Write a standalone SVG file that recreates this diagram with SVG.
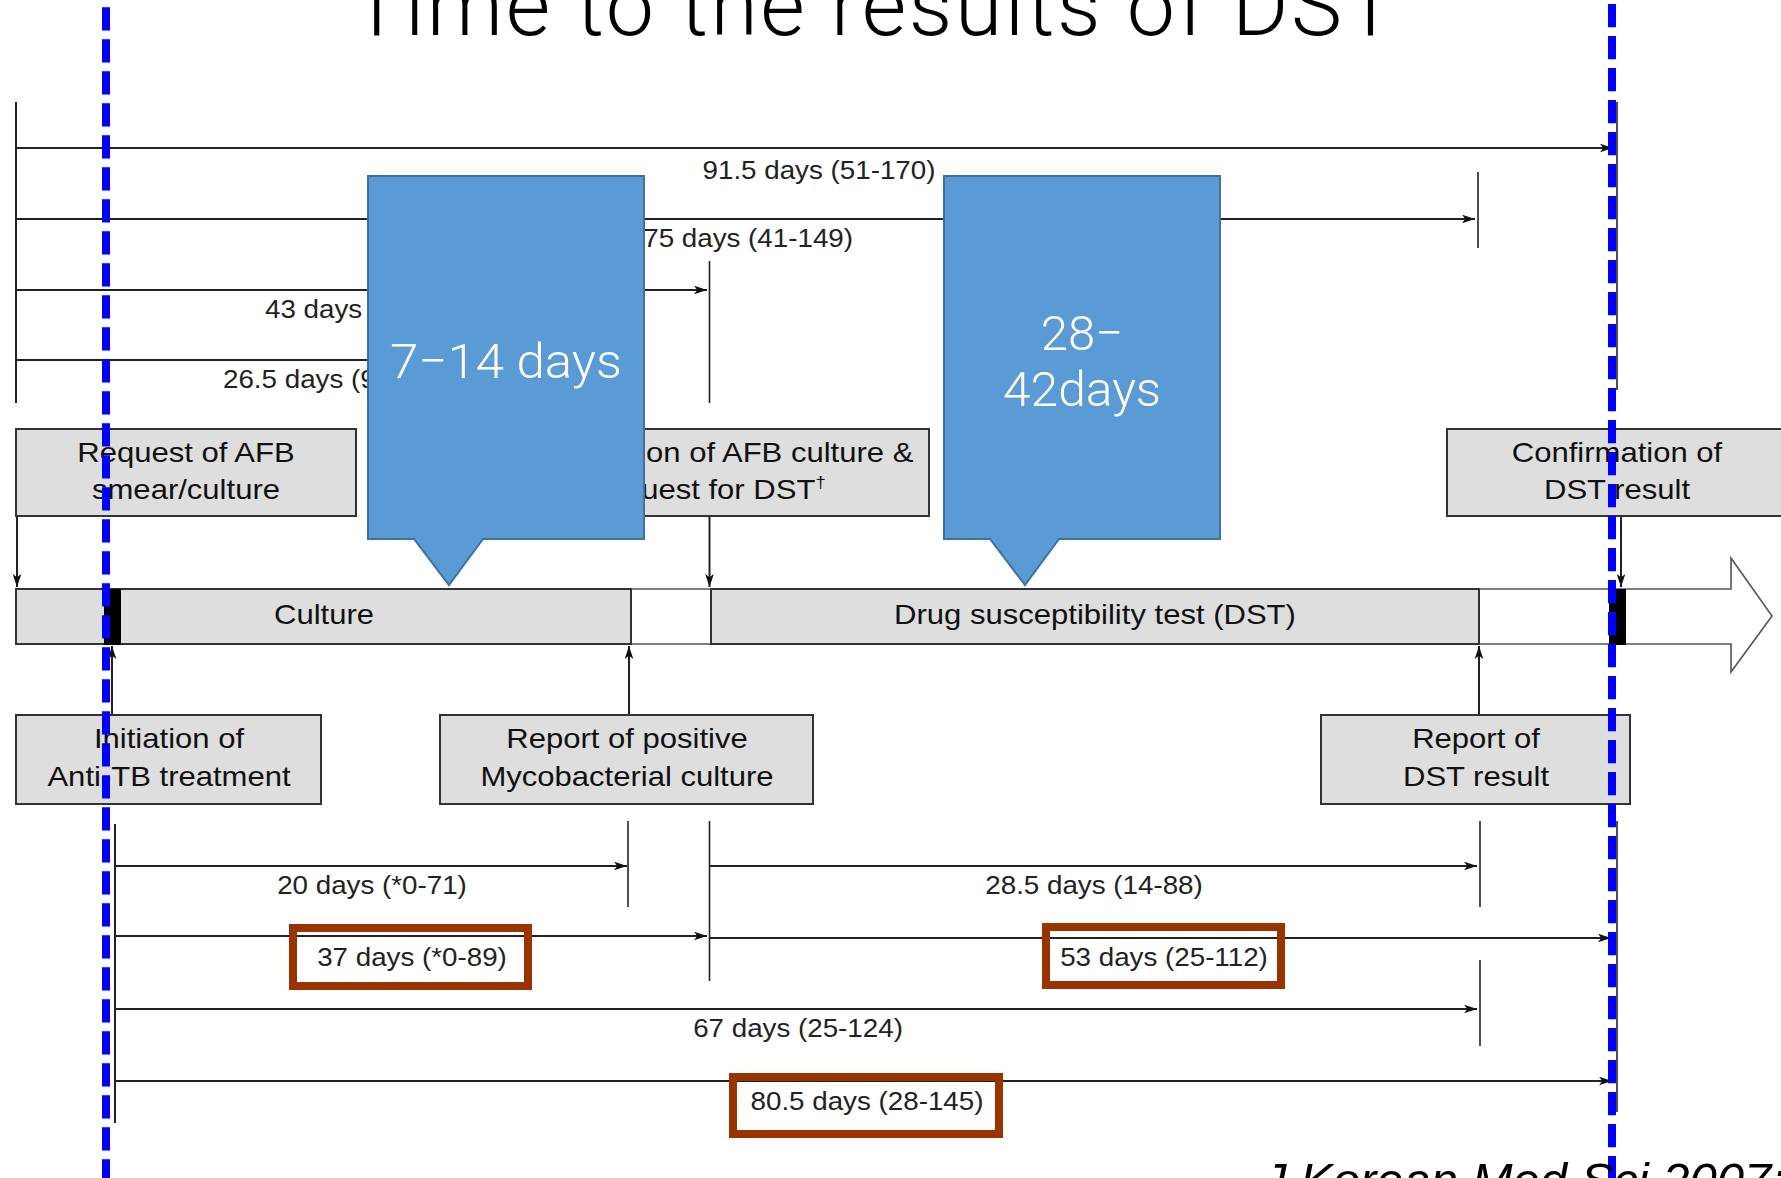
<svg xmlns="http://www.w3.org/2000/svg" width="1781" height="1178" viewBox="0 0 1781 1178">
<defs>
<marker id="ah" viewBox="0 0 12 8" refX="12" refY="4" markerWidth="13" markerHeight="9" markerUnits="userSpaceOnUse" orient="auto"><path d="M0,0 L12,4 L0,8 L3,4 Z" fill="#111"/></marker>
<style>
.box{fill:#DEDEDE;stroke:#333;stroke-width:2}
.bt{font-family:"Liberation Sans",Arial,sans-serif;font-size:27px;fill:#111;text-anchor:middle}
.lb{font-family:"Liberation Sans",Arial,sans-serif;font-size:25px;fill:#222;text-anchor:middle}
.ln{stroke:#222;stroke-width:2;fill:none}
.tk{stroke:#222;stroke-width:1.6;fill:none}
.ar{stroke:#222;stroke-width:2;fill:none;marker-end:url(#ah)}
.call{fill:#5B9BD5;stroke:#41719C;stroke-width:2}
.ct{font-family:Roboto,"Liberation Sans",Arial,sans-serif;font-weight:300;font-size:49px;fill:#fff;text-anchor:middle}
.red{fill:none;stroke:#993300;stroke-width:8}
.blue{stroke:#0000FF;stroke-width:8;stroke-dasharray:23.3 8.7;fill:none}
</style>
</defs>
<rect width="1781" height="1178" fill="#fff"/>

<g id="title">
<text x="351" y="35" font-family="Roboto,'Liberation Sans',sans-serif" font-weight="300" font-size="86" fill="#000" textLength="1045" lengthAdjust="spacing">Time to the results of DST</text>
</g>

<g id="timeline-bar">
<polygon points="16,589 1731,589 1731,558 1772,616 1731,672 1731,644 16,644" fill="#fff" stroke="#555" stroke-width="1.6"/>
<rect class="box" x="16" y="589" width="615" height="55"/>
<text class="bt" transform="translate(324 624) scale(1.15 1)">Culture</text>
<rect class="box" x="711" y="589" width="768" height="55"/>
<text class="bt" transform="translate(1095 624) scale(1.15 1)">Drug susceptibility test (DST)</text>
<rect x="104" y="589" width="17" height="56" fill="#000"/>
<rect x="1609" y="589" width="17" height="56" fill="#000"/>
</g>

<g id="connectors">
<line class="ln" x1="16" y1="102" x2="16" y2="403"/>
<line class="ar" x1="16" y1="148" x2="1613" y2="148"/>
<line class="ar" x1="16" y1="219" x2="1475" y2="219"/>
<line class="ar" x1="16" y1="290" x2="707" y2="290"/>
<line class="ar" x1="16" y1="360" x2="628" y2="360"/>
<line class="tk" x1="709.5" y1="261" x2="709.5" y2="403"/>
<line class="tk" x1="1478" y1="172" x2="1478" y2="248"/>
<line class="tk" x1="1617" y1="102" x2="1617" y2="390"/>

<line class="ar" x1="17" y1="516" x2="17" y2="587"/>
<line class="ar" x1="709.5" y1="516" x2="709.5" y2="587"/>
<line class="ar" x1="1621" y1="516" x2="1621" y2="587"/>
<line class="ar" x1="112" y1="715" x2="112" y2="646"/>
<line class="ar" x1="629" y1="715" x2="629" y2="646"/>
<line class="ar" x1="1479" y1="715" x2="1479" y2="646"/>

<line class="ln" x1="115" y1="824" x2="115" y2="1123"/>
<line class="ar" x1="115" y1="866" x2="627" y2="866"/>
<line class="tk" x1="628" y1="821" x2="628" y2="907"/>
<line class="ar" x1="115" y1="936" x2="707" y2="936"/>
<line class="tk" x1="709.5" y1="821" x2="709.5" y2="981"/>
<line class="ar" x1="709.5" y1="866" x2="1477" y2="866"/>
<line class="tk" x1="1480" y1="821" x2="1480" y2="907"/>
<line class="ar" x1="709.5" y1="938" x2="1611" y2="938"/>
<line class="ar" x1="115" y1="1009" x2="1477" y2="1009"/>
<line class="tk" x1="1480" y1="960" x2="1480" y2="1046"/>
<line class="ar" x1="115" y1="1081" x2="1612" y2="1081"/>
<line class="tk" x1="1617" y1="821" x2="1617" y2="1112"/>
</g>

<g id="labels">
<text class="lb" transform="translate(819 179) scale(1.11 1)">91.5 days (51-170)</text>
<text class="lb" transform="translate(853 247) scale(1.11 1)" style="text-anchor:end">75 days (41-149)</text>
<text class="lb" transform="translate(265 318) scale(1.11 1)" style="text-anchor:start">43 days</text>
<text class="lb" transform="translate(223 388) scale(1.11 1)" style="text-anchor:start">26.5 days (9</text>
<text class="lb" transform="translate(372 894) scale(1.11 1)">20 days (*0-71)</text>
<text class="lb" transform="translate(412 966) scale(1.11 1)">37 days (*0-89)</text>
<text class="lb" transform="translate(1094 894) scale(1.11 1)">28.5 days (14-88)</text>
<text class="lb" transform="translate(1164 966) scale(1.11 1)">53 days (25-112)</text>
<text class="lb" transform="translate(798 1037) scale(1.11 1)">67 days (25-124)</text>
<text class="lb" transform="translate(867 1110) scale(1.11 1)">80.5 days (28-145)</text>
<rect class="red" x="293" y="928" width="235" height="58"/>
<rect class="red" x="1046" y="927" width="235" height="58"/>
<rect class="red" x="733" y="1077" width="266" height="57"/>
</g>

<g id="node-request">
<rect class="box" x="16" y="429" width="340" height="87"/>
<text class="bt" transform="translate(186 462) scale(1.15 1)">Request of AFB</text>
<text class="bt" transform="translate(186 499) scale(1.15 1)">smear/culture</text>
</g>
<g id="node-confirm-culture">
<rect class="box" x="489" y="429" width="440" height="87"/>
<text class="bt" transform="translate(709 462) scale(1.15 1)">Confirmation of AFB culture &amp;</text>
<text class="bt" transform="translate(711 499) scale(1.15 1)">request for DST<tspan font-size="16" dy="-11">†</tspan></text>
</g>
<g id="node-confirm-dst">
<rect class="box" x="1447" y="429" width="345" height="87"/>
<text class="bt" transform="translate(1617 462) scale(1.15 1)">Confirmation of</text>
<text class="bt" transform="translate(1617 499) scale(1.15 1)">DST result</text>
</g>
<g id="node-initiation">
<rect class="box" x="16" y="715" width="305" height="89"/>
<text class="bt" transform="translate(169 748) scale(1.15 1)">Initiation of</text>
<text class="bt" transform="translate(169 786) scale(1.15 1)">Anti-TB treatment</text>
</g>
<g id="node-positive">
<rect class="box" x="440" y="715" width="373" height="89"/>
<text class="bt" transform="translate(627 748) scale(1.15 1)">Report of positive</text>
<text class="bt" transform="translate(627 786) scale(1.15 1)">Mycobacterial culture</text>
</g>
<g id="node-dst-report">
<rect class="box" x="1321" y="715" width="309" height="89"/>
<text class="bt" transform="translate(1476 748) scale(1.15 1)">Report of</text>
<text class="bt" transform="translate(1476 786) scale(1.15 1)">DST result</text>
</g>

<g id="callout-culture">
<path class="call" d="M368,176 H644 V539 H483 L449,585 L414,539 H368 Z"/>
<text class="ct" x="506" y="378" textLength="232" lengthAdjust="spacingAndGlyphs">7−14 days</text>
</g>
<g id="callout-dst">
<path class="call" d="M944,176 H1220 V539 H1059 L1025,585 L990,539 H944 Z"/>
<text class="ct" x="1082" y="350">28−</text>
<text class="ct" x="1082" y="406" textLength="158" lengthAdjust="spacingAndGlyphs">42days</text>
</g>

<g id="guides">
<line class="blue" x1="106" y1="0" x2="106" y2="1178" stroke-dashoffset="24.7"/>
<line class="blue" x1="1612" y1="0" x2="1612" y2="1178" stroke-dashoffset="28"/>
</g>

<g id="citation">
<text x="1262" y="1197" font-family="'Liberation Sans',Arial,sans-serif" font-style="italic" font-size="49" fill="#000">J Korean Med Sci 2007;2</text>
</g>
</svg>
